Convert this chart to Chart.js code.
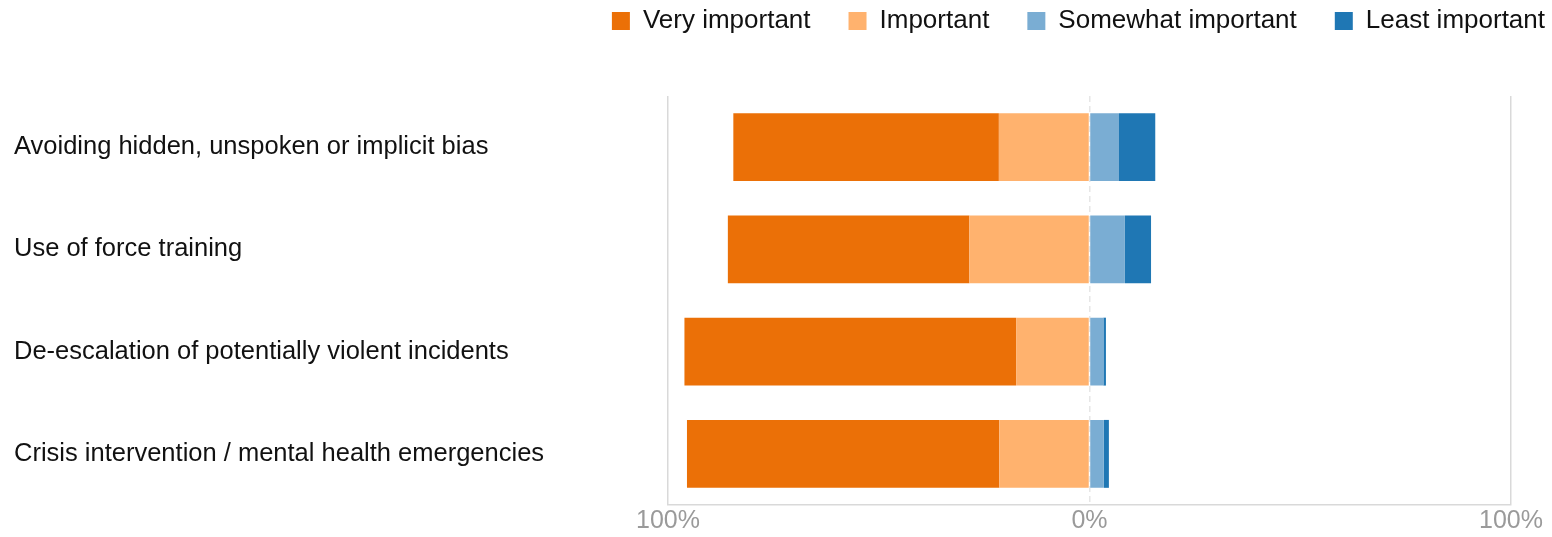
<!DOCTYPE html>
<html>
<head>
<meta charset="utf-8">
<script src="https://cdn.jsdelivr.net/npm/chart.js@4/dist/chart.umd.min.js"></script>
<style>
  body { margin: 0; background: #fff; }
  #wrap { width: 1552px; height: 537px; }
</style>
</head>
<body>
<div id="wrap"><canvas id="chart" width="1552" height="537"></canvas></div>
<script>
// Daten (Prozent der Antworten)
var categories = [
  'Avoiding hidden, unspoken or implicit bias',
  'Use of force training',
  'De-escalation of potentially violent incidents',
  'Crisis intervention / mental health emergencies'
];
var veryImportant = [63.0, 57.3, 78.7, 74.1];
var important = [21.5, 28.5, 17.4, 21.4];
var somewhatImportant = [7.0, 8.4, 3.3, 3.4];
var leastImportant = [8.6, 6.2, 0.6, 1.2];
var tickValues = [-100, 0, 100];

var fontFamily = '"Liberation Sans", Arial, sans-serif';

function negate(arr) {
  return arr.map(function (v) { return -v; });
}

// Legende nach oben rechts verschieben
var legendPlacement = {
  id: 'legendPlacement',
  afterLayout: function (chart) {
    var legend = chart.legend;
    var pad = legend.options.labels.padding;
    legend.top = 8 - pad;
    legend.right = chart.width - 7 + pad;
  }
};

var ctx = document.getElementById('chart').getContext('2d');
var chart = new Chart(ctx, {
  type: 'bar',
  data: {
    labels: categories,
    datasets: [
      { label: 'Very important', data: negate(veryImportant), backgroundColor: '#EB7007', order: 2 },
      { label: 'Important', data: negate(important), backgroundColor: '#FFB26E', order: 1 },
      { label: 'Somewhat important', data: somewhatImportant, backgroundColor: '#7AADD3', order: 1 },
      { label: 'Least important', data: leastImportant, backgroundColor: '#1F77B4', order: 2 }
    ]
  },
  options: {
    indexAxis: 'y',
    responsive: false,
    animation: false,
    borderWidth: 0,
    categoryPercentage: 0.8,
    barPercentage: 0.83,
    layout: { padding: { top: 22, left: 14, right: 7, bottom: 0 } },
    scales: {
      x: {
        stacked: true,
        min: -100,
        max: 100,
        afterBuildTicks: function (scale) {
          scale.ticks = tickValues.map(function (v) { return { value: v }; });
        },
        afterFit: function (scale) {
          scale.paddingRight = 41;
        },
        ticks: {
          padding: 1,
          color: '#9a9a9a',
          font: { family: fontFamily, size: 25 },
          callback: function (value) { return Math.abs(value) + '%'; }
        },
        grid: {
          drawTicks: false,
          color: function (c) {
            return c.tick && c.tick.value === 0 ? '#e6e6e6' : '#d9d9d9';
          },
          lineWidth: 1.5
        },
        border: {
          display: true,
          color: '#d9d9d9',
          width: 1.5,
          dash: function (c) {
            return c.tick && c.tick.value === 0 ? [6, 4] : [];
          }
        }
      },
      y: {
        stacked: true,
        afterFit: function (scale) {
          scale.width = 654;
        },
        ticks: {
          crossAlign: 'far',
          color: '#111',
          font: { family: fontFamily, size: 25.5 }
        },
        grid: { display: false },
        border: { display: false }
      }
    },
    plugins: {
      tooltip: { enabled: false },
      legend: {
        position: 'top',
        align: 'end',
        labels: {
          boxWidth: 18,
          boxHeight: 18,
          padding: 38,
          color: '#111',
          font: { family: fontFamily, size: 26 },
          sort: function (a, b) { return a.datasetIndex - b.datasetIndex; }
        }
      }
    }
  },
  plugins: [legendPlacement]
});
</script>
</body>
</html>
